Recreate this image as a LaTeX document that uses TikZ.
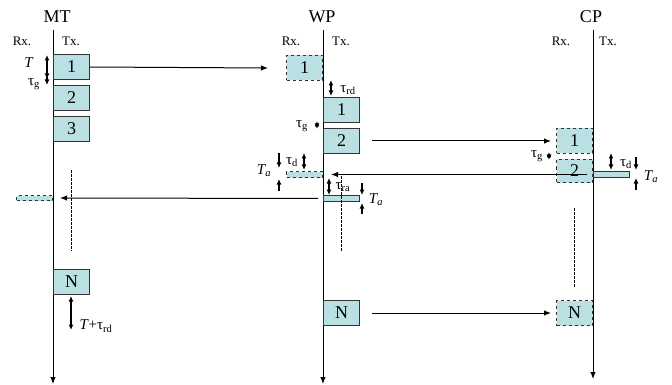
\documentclass[tikz,border=0pt]{standalone}
\usepackage{fontspec}
\setmainfont{Liberation Serif}
\usetikzlibrary{arrows.meta,positioning,calc}
\definecolor{pktfill}{RGB}{186,224,228}

\begin{document}
\begin{tikzpicture}[x=1pt, y=-1pt, line width=1pt,
	>={Latex[length=7pt,width=5.5pt]},
	txbox/.style = {rectangle, draw=black!80, fill=pktfill, line width=1pt,
		minimum width=36pt, minimum height=25pt, inner sep=0pt,
		anchor=north west, font=\fontsize{18}{19}\selectfont},
	rxbox/.style = {txbox, dashed, anchor=north east},
	txbar/.style = {rectangle, draw=black!80, fill=pktfill, line width=1pt,
		minimum width=36pt, minimum height=6pt, inner sep=0pt, anchor=north west},
	rxbar/.style = {txbar, dashed, anchor=north east},
	title/.style = {font=\fontsize{18}{20}\selectfont},
	side/.style = {font=\fontsize{13}{15}\selectfont},
	lbl/.style = {font=\fontsize{15}{16}\selectfont, inner sep=0pt},
	dim/.style = {<->, line width=1.1pt, >={Latex[length=5.5pt,width=5pt]}},
	gap/.style = {->, line width=1.1pt, >={Latex[length=5.5pt,width=5pt]}},
	trail/.style = {line width=0.8pt, dash pattern=on 2.5pt off 1.5pt}]
	\useasboundingbox (0,0) rectangle (672,385);

	% three stations
	\node[title] (mtname) at (57,17) {MT};
	\node[title] (wpname) at (322,17) {WP};
	\node[title] (cpname) at (591,17) {CP};
	\node[side] (mtrx) at (22,41) {Rx.};
	\node[side] (mttx) at (71,41) {Tx.};
	\node[side] (wprx) at (291,41) {Rx.};
	\node[side] (wptx) at (341,41) {Tx.};
	\node[side] (cprx) at (561,41) {Rx.};
	\node[side] (cptx) at (608,41) {Tx.};

	% time axes
	\coordinate (mttop) at (53,30);  \coordinate (mtend) at (53,384);
	\coordinate (wptop) at (323,30); \coordinate (wpend) at (323,384);
	\coordinate (cptop) at (593,30); \coordinate (cpend) at (593,379);
	\draw[->] (mttop) -- (mtend);
	\draw[->] (wptop) -- (wpend);
	\draw[->] (cptop) -- (cpend);

	% MT packets
	\node[txbox] (mt1) at (53,54)  {1};
	\node[txbox] (mt2) at (53,85)  {2};
	\node[txbox] (mt3) at (53,116) {3};
	\node[txbox] (mtN) at (53,269) {N};
	\node[rxbar, minimum height=5pt] (mtack) at (53,195) {};

	% WP packets
	\node[rxbox] (wpr1) at (323,55)  {1};
	\node[txbox] (wp1)  at (323,97)  {1};
	\node[txbox] (wp2)  at (323,128) {2};
	\node[txbox] (wpN)  at (323,300) {N};
	\node[rxbar] (wpack) at (323,171) {};
	\node[txbar] (wpfwd) at (323,195) {};

	% CP packets
	\node[rxbox] (cpr1) at (593,128) {1};
	\node[rxbox, minimum height=23pt] (cpr2) at (593,159) {2};
	\node[rxbox] (cprN) at (593,300) {N};
	\node[txbar] (cpack) at (593,171) {};

	% transmissions
	\draw[->] (mt1.east) -- ($(wpr1.west)+(-18,0)$);
	\draw[->] ($(wp2.east)+(12,0)$) -- ($(cpr1.west)+(-5,0)$);
	\draw[->] ($(cpack.west)+(-6,0)$) -- ($(wpack.east)+(8,0)$);
	\draw[->] ($(wpfwd.west)+(-5,0)$) -- ($(mtack.east)+(7,0)$);
	\draw[->] ($(wpN.east)+(12,0)$) -- ($(cprN.west)+(-5,0)$);

	% remaining packets
	\draw[trail] (71,170) -- (71,251);
	\draw[trail] (341,176) -- (341,252);
	\draw[trail] (574,208) -- (574,288);

	% timing at MT
	\draw[dim] (47,55) -- (47,79);
	\draw[gap] (47,77) -- (47,85);
	\node[lbl] (mtT) at (29,63) {\textit{T}};
	\node[lbl] (mttg) at (34,84) {τ\textsubscript{g}};
	\draw[dim] (71,296) -- (71,330);
	\node[lbl, anchor=west] (mtTrd) at (79,326) {\textit{T}+τ\textsubscript{rd}};

	% timing at WP
	\draw[dim] (331,80) -- (331,96);
	\node[lbl] (wptrd) at (348,90) {τ\textsubscript{rd}};
	\draw[dim] (317,121) -- (317,129);
	\node[lbl] (wptg) at (302,126) {τ\textsubscript{g}};
	\draw[dim] (304,153) -- (304,170);
	\node[lbl] (wptd) at (292,162) {τ\textsubscript{d}};
	\draw[gap] (279,153) -- (279,168);
	\draw[gap] (279,191) -- (279,179);
	\node[lbl] (wpTa) at (264,171) {\textit{T\textsubscript{a}}};
	\draw[dim] (329,178) -- (329,195);
	\node[lbl] (wptra) at (343,187) {τ\textsubscript{ra}};
	\draw[gap] (362,183) -- (362,195);
	\draw[gap] (362,214) -- (362,203);
	\node[lbl] (wpTb) at (376,200) {\textit{T\textsubscript{a}}};

	% timing at CP
	\draw[dim] (549,152) -- (549,160);
	\node[lbl] (cptg) at (537,156) {τ\textsubscript{g}};
	\draw[dim] (611,153) -- (611,170);
	\node[lbl] (cptd) at (626,164) {τ\textsubscript{d}};
	\draw[gap] (636,157) -- (636,170);
	\draw[gap] (636,190) -- (636,178);
	\node[lbl] (cpTa) at (651,177) {\textit{T\textsubscript{a}}};
\end{tikzpicture}
\end{document}
